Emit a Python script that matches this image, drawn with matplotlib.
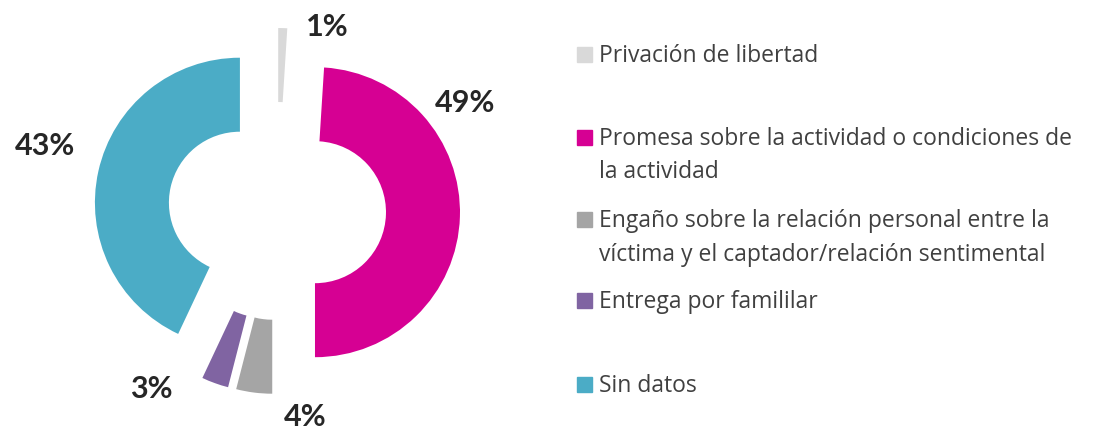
import matplotlib.pyplot as plt
from matplotlib.patches import Rectangle

plt.rcParams['font.family'] = ['Open Sans', 'DejaVu Sans']

# data
categorias = ['Privación de libertad',
              'Promesa sobre la actividad o condiciones de\nla actividad',
              'Engaño sobre la relación personal entre la\nvíctima y el captador/relación sentimental',
              'Entrega por famililar',
              'Sin datos']
porcentajes = [1, 49, 4, 3, 43]
colores = ['#D9D9D9', '#D60093', '#A5A5A5', '#8064A2', '#4BACC6']

W, H = 1107, 432
R = 145.0          # outer radius in px
cx, cy = 277, 211  # donut centre in px

fig = plt.figure(figsize=(W/100, H/100), dpi=100)
ax = fig.add_axes([0, 0, 560/W, 1])
ax.pie(porcentajes, colors=colores, startangle=90, counterclock=False,
       explode=[38/R]*len(porcentajes), radius=1,
       wedgeprops=dict(width=74/R, linewidth=0))
ax.set_aspect('auto')
ax.set_xlim(-cx/R, (560-cx)/R)
ax.set_ylim(-(H-cy)/R, cy/R)

# percentage labels (pixel positions of each label)
lab_px = [(327, 27), (465, 103), (305, 417), (151, 389), (45, 146)]
for v, (px, py) in zip(porcentajes, lab_px):
    ax.text((px-cx)/R, (cy-py)/R, f'{v}%', ha='center', va='center',
            fontsize=22, fontweight='bold', color='#262626', family=['Lato'])

# legend, drawn by hand
base_px = [[62], [145, 178], [227, 261], [308], [392]]
x_sq, x_txt, sq = 577, 599, 15
for lab, col, bases in zip(categorias, colores, base_px):
    fig.patches.append(Rectangle((x_sq/W, 1-bases[0]/H), sq/W, sq/H,
                                 transform=fig.transFigure, color=col))
    for line, b in zip(lab.split('\n'), bases):
        fig.text(x_txt/W, 1-b/H, line, ha='left', va='baseline',
                 fontsize=16.5, color='#404040')

fig.savefig('out.png', dpi=100)
